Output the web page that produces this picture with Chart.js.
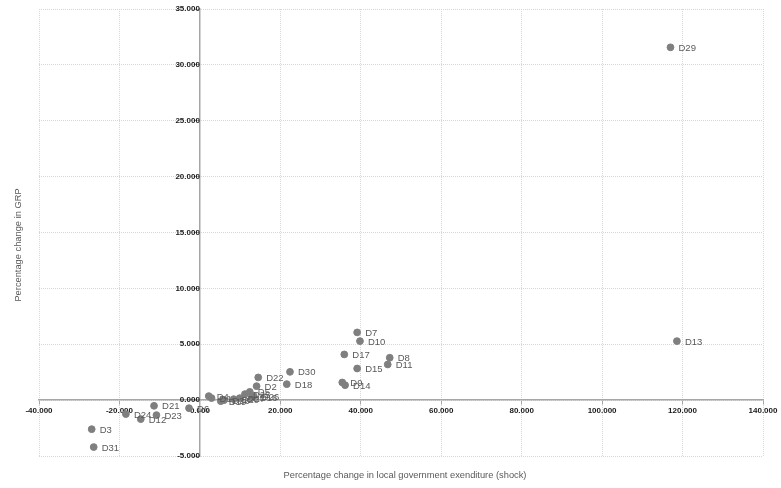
<!DOCTYPE html>
<html>
<head>
<meta charset="utf-8">
<script src="https://cdn.jsdelivr.net/npm/chart.js@4"></script>
<style>
  html, body { margin: 0; padding: 0; background: #fff; }
  #wrap { width: 781px; height: 488px; }
</style>
</head>
<body>
<div id="wrap"><canvas id="scatterChart"></canvas></div>
<script>
// district names and the values
const districts = ["D1", "D2", "D3", "D4", "D5", "D6", "D7", "D8", "D9", "D10",
    "D11", "D12", "D13", "D14", "D15", "D16", "D17", "D18", "D19", "D20",
    "D21", "D22", "D23", "D24", "D25", "D26", "D27", "D28", "D29", "D30", "D31"];
// percentage change in local government expenditure (x)
const shockValues = [2.9, 14.1, -26.9, 2.2, 12.4, -2.7, 39.1, 47.2, 35.4, 39.8,
    46.7, -14.7, 118.6, 36.1, 39.1, 12.9, 35.9, 21.6, 5.2, 8.4,
    -11.4, 14.5, -10.8, -18.4, 11.2, 13.4, 9.9, 6.0, 117.0, 22.4, -26.4];
// percentage change in GRP (y)
const grpValues = [0.18, 1.25, -2.6, 0.36, 0.74, -0.72, 6.06, 3.79, 1.58, 5.28,
    3.19, -1.70, 5.28, 1.34, 2.83, 0.27, 4.09, 1.43, -0.09, 0.09,
    -0.51, 2.03, -1.34, -1.25, 0.54, 0.36, 0.18, 0.0, 31.57, 2.53, -4.2];

const xTitle = "Percentage change in local government exenditure (shock)";
const yTitle = "Percentage change in GRP";

const points = shockValues.map((x, i) => ({ x: x, y: grpValues[i] }));

// labels next to each point
const pointLabelPlugin = {
    id: "pointLabels",
    afterDatasetsDraw(chart) {
        const ctx = chart.ctx;
        const meta = chart.getDatasetMeta(0);
        ctx.save();
        ctx.font = "9.5px 'Liberation Sans', Arial, sans-serif";
        ctx.fillStyle = "#595959";
        ctx.textBaseline = "middle";
        ctx.textAlign = "left";
        meta.data.forEach((pt, i) => {
            ctx.fillText(districts[i], pt.x + 8, pt.y + 1);
        });
        ctx.restore();
    }
};

// axis titles sit at the chart edges, not next to the centred axes
const axisTitlePlugin = {
    id: "axisTitles",
    afterDraw(chart) {
        const ctx = chart.ctx;
        const area = chart.chartArea;
        ctx.save();
        ctx.font = "9.3px 'Liberation Sans', Arial, sans-serif";
        ctx.fillStyle = "#595959";
        ctx.textAlign = "center";
        ctx.textBaseline = "middle";
        ctx.fillText(xTitle, (area.left + area.right) / 2 + 4, 475);
        ctx.translate(18, 245);
        ctx.rotate(-Math.PI / 2);
        ctx.fillText(yTitle, 0, 0);
        ctx.restore();
    }
};

const tickFont = { size: 8, weight: "bold", family: "'Liberation Sans', Arial, sans-serif" };

const ctx = document.getElementById("scatterChart").getContext("2d");
new Chart(ctx, {
    type: "scatter",
    data: {
        datasets: [{
            label: "Districts",
            data: points,
            backgroundColor: "#7f7f7f",
            borderColor: "#7f7f7f",
            pointRadius: 3.4,
            pointHoverRadius: 3.4
        }]
    },
    options: {
        responsive: true,
        maintainAspectRatio: false,
        animation: false,
        layout: {
            padding: { left: 39, right: 18, top: 9, bottom: 32 }
        },
        scales: {
            x: {
                type: "linear",
                position: { y: 0 },
                min: -40,
                max: 140,
                ticks: {
                    stepSize: 20,
                    padding: 2,
                    color: "#1a1a1a",
                    font: tickFont,
                    callback: v => v.toFixed(3),
                    maxRotation: 0
                },
                grid: {
                    color: "#d6d6d6",
                    tickColor: "#a6a6a6",
                    tickLength: 4,
                    tickBorderDash: []
                },
                border: { color: "#a6a6a6", width: 1.5, dash: [1, 1] }
            },
            y: {
                type: "linear",
                position: { x: 0 },
                min: -5,
                max: 35,
                ticks: {
                    stepSize: 5,
                    padding: 2,
                    color: "#1a1a1a",
                    font: tickFont,
                    callback: v => v.toFixed(3)
                },
                grid: {
                    color: "#d6d6d6",
                    tickColor: "#a6a6a6",
                    tickLength: 4,
                    tickBorderDash: []
                },
                border: { color: "#a6a6a6", width: 1.5, dash: [1, 1] }
            }
        },
        plugins: {
            legend: { display: false },
            tooltip: { enabled: false }
        }
    },
    plugins: [pointLabelPlugin, axisTitlePlugin]
});
</script>
</body>
</html>
